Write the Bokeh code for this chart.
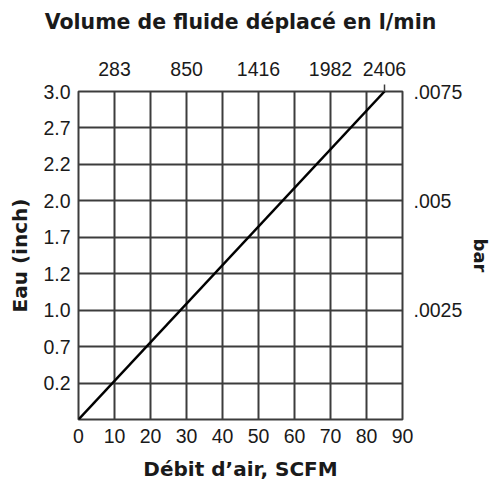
from bokeh.plotting import figure
from bokeh.models import Range1d, LinearAxis, FixedTicker
from bokeh.embed import file_html
from bokeh.resources import INLINE

# ---- data ----
scfm = [0, 85]
inch_h2o = [0, 3.0]

x_ticks = [0, 10, 20, 30, 40, 50, 60, 70, 80, 90]
x_tick_labels = ["0", "10", "20", "30", "40", "50", "60", "70", "80", "90"]

y_ticks = [0.0, 1/3, 2/3, 1.0, 4/3, 5/3, 2.0, 7/3, 8/3, 3.0]
y_tick_labels = ["", "0.2", "0.7", "1.0", "1.2", "1.7", "2.0", "2.2", "2.7", "3.0"]

lmin_ticks = [283, 850, 1416, 1982, 2406]
lmin_tick_labels = ["283", "850", "1416", "1982", "2406"]
lmin_marked = [2406]

bar_ticks = [0.0025, 0.005, 0.0075]
bar_tick_labels = [".0025", ".005", ".0075"]

LMIN_PER_SCFM = 28.317
BAR_PER_INCH = 0.0025

X_MAX = 90
Y_MAX = 3.0

TICK_FONT = "Liberation Sans"
BOLD_FONT = "DejaVu Sans"
GRID_COLOR = "#3c3c3c"
TEXT_COLOR = "#1a1a1a"

p = figure(
    width=494, height=483,
    x_range=Range1d(0, X_MAX), y_range=Range1d(0, Y_MAX),
    output_backend="svg", toolbar_location=None,
    min_border_left=78, min_border_right=89, min_border_top=91, min_border_bottom=64,
)
p.extra_x_ranges = {"lmin": Range1d(0, X_MAX * LMIN_PER_SCFM)}
p.extra_y_ranges = {"bar": Range1d(0, Y_MAX * BAR_PER_INCH)}

p.outline_line_color = GRID_COLOR
p.outline_line_width = 2
p.background_fill_color = "white"
p.border_fill_color = "white"

bottom_axis = p.below[0]
left_axis = p.left[0]
tick_axis = LinearAxis(x_range_name="lmin")
top_axis = LinearAxis(x_range_name="lmin")
right_axis = LinearAxis(y_range_name="bar")
p.add_layout(tick_axis, "above")
p.add_layout(top_axis, "above")
p.add_layout(right_axis, "right")

bottom_axis.ticker = FixedTicker(ticks=x_ticks)
bottom_axis.major_label_overrides = dict(zip(x_ticks, x_tick_labels))
bottom_axis.axis_label = "Débit d’air, SCFM"
left_axis.ticker = FixedTicker(ticks=y_ticks)
left_axis.major_label_overrides = dict(zip(y_ticks, y_tick_labels))
left_axis.axis_label = "Eau (inch)"

top_axis.ticker = FixedTicker(ticks=lmin_ticks)
top_axis.major_label_overrides = dict(zip(lmin_ticks, lmin_tick_labels))
top_axis.axis_label = "Volume de fluide déplacé en l/min"
right_axis.ticker = FixedTicker(ticks=bar_ticks)
right_axis.major_label_overrides = dict(zip(bar_ticks, bar_tick_labels))
right_axis.axis_label = "bar"

for ax in [bottom_axis, left_axis, top_axis, right_axis, tick_axis]:
    ax.axis_line_color = None
    ax.major_tick_line_color = None
    ax.minor_tick_line_color = None
    ax.major_tick_in = 0
    ax.major_tick_out = 0
    ax.major_label_text_font = TICK_FONT
    ax.major_label_text_font_size = "19.5px"
    ax.major_label_text_color = TEXT_COLOR
    ax.axis_label_text_font = BOLD_FONT
    ax.axis_label_text_font_style = "bold"
    ax.axis_label_text_font_size = "20px"
    ax.axis_label_text_color = TEXT_COLOR

# tick-only axis: one short mark under the 2406 label
tick_axis.ticker = FixedTicker(ticks=lmin_marked)
tick_axis.major_label_overrides = {v: "" for v in lmin_marked}
tick_axis.major_label_text_font_size = "1px"
tick_axis.major_label_standoff = 0
tick_axis.major_tick_out = 7
tick_axis.major_tick_line_color = GRID_COLOR
tick_axis.major_tick_line_width = 1.5

bottom_axis.major_label_standoff = 9
bottom_axis.axis_label_standoff = 11
left_axis.major_label_standoff = 8
left_axis.axis_label_standoff = 8
top_axis.major_label_standoff = 9
top_axis.axis_label_standoff = 25
top_axis.axis_label_text_font_size = "20.5px"
right_axis.major_label_standoff = 11
right_axis.axis_label_standoff = 5
right_axis.axis_label_text_font_size = "18px"

p.xgrid.grid_line_color = GRID_COLOR
p.xgrid.grid_line_width = 2
p.ygrid.grid_line_color = GRID_COLOR
p.ygrid.grid_line_width = 2

p.line(scfm, inch_h2o, line_color="black", line_width=2.5)

open("out.html", "w").write(file_html(p, INLINE))
